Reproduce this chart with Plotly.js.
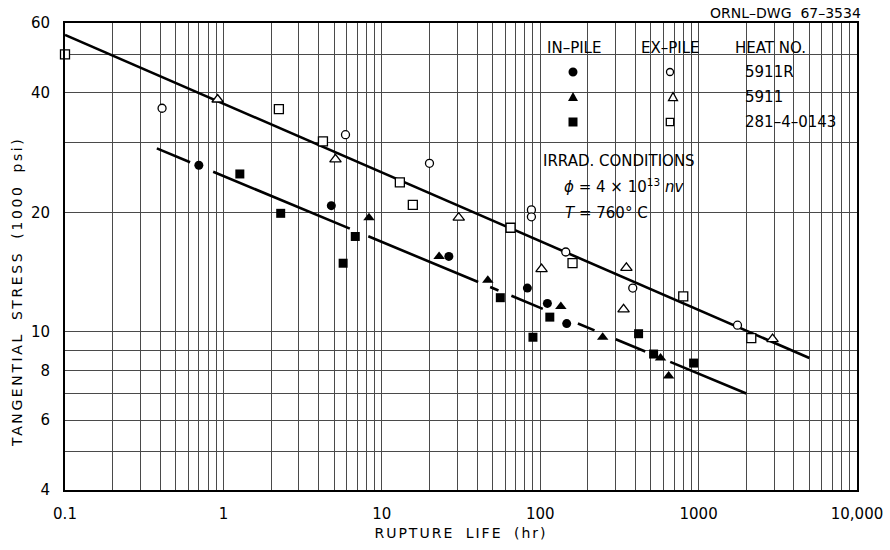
<!DOCTYPE html>
<html>
<head>
<meta charset="utf-8">
<script src="https://cdn.plot.ly/plotly-3.0.1.min.js"></script>
<style>
html,body{margin:0;padding:0;background:#fff;}
#chart{width:890px;height:550px;}
.xtitle{letter-spacing:2px;word-spacing:5px;}
.annotation[data-index="0"] .annotation-text{letter-spacing:2.6px;word-spacing:5px;}
</style>
</head>
<body>
<div id="chart"></div>
<script>
// ---------------- DATA ----------------
// In-pile (irradiated), filled symbols
const inPile5911R_x = [0.70, 4.8, 26.5, 83, 111, 147];
const inPile5911R_y = [26.3, 20.8, 15.5, 12.9, 11.8, 10.5];
const inPile5911_x  = [8.3, 23, 46.7, 135, 248, 575, 647];
const inPile5911_y  = [19.4, 15.5, 13.5, 11.6, 9.7, 8.6, 7.75];
const inPile281_x   = [1.27, 2.3, 5.7, 6.8, 56, 90, 115, 418, 520, 930];
const inPile281_y   = [25.0, 19.9, 14.9, 17.4, 12.2, 9.7, 10.9, 9.9, 8.8, 8.35];
// Ex-pile (control), open symbols
const exPile5911R_x = [0.41, 5.9, 20, 88, 88, 145, 384, 1760];
const exPile5911R_y = [36.6, 31.4, 26.6, 20.3, 19.5, 15.9, 12.9, 10.4];
const exPile5911_x  = [0.92, 5.1, 30.6, 102, 336, 350, 2930];
const exPile5911_y  = [38.5, 27.2, 19.4, 14.4, 11.4, 14.5, 9.6];
const exPile281_x   = [0.1, 2.24, 4.25, 13, 15.7, 65, 160, 800, 2150];
const exPile281_y   = [50, 36.4, 30.2, 23.8, 20.9, 18.3, 14.9, 12.3, 9.65];
// Fitted lines (end points)
const exPileFit_x = [0.1, 5000];
const exPileFit_y = [56, 8.6];
const inPileFit_x = [0.38, 2000];
const inPileFit_y = [29, 7.0];
// Axis ticks
const xDecades = [0.1, 1, 10, 100, 1000];
const xLabelVals = [0.1, 1, 10, 100, 1000, 10000];
const xLabelText = ['0.1', '1', '10', '100', '1000', '10,000'];
const yLabelVals = [4, 6, 8, 10, 20, 40, 60];
const yLabelText = ['4', '6', '8', '10', '20', '40', '60'];
const yGridVals = [4, 5, 6, 7, 8, 9, 10, 20, 30, 40, 50, 60];
// Legend table text
const heatNumbers = ['5911R', '5911', '281\u20134\u20130143'];

// ---------------- BUILD ----------------
const FONT = 'DejaVu Sans, Verdana, sans-serif';
const BLACK = '#000';

const xGridVals = [];
xDecades.forEach(d => { for (let m = 2; m <= 9; m++) xGridVals.push(d * m); });
const yMinorVals = yGridVals.filter(v => yLabelVals.indexOf(v) < 0);

function markerTrace(x, y, symbol, size, filled, name) {
  return {
    type: 'scatter', mode: 'markers', x: x, y: y, name: name,
    cliponaxis: false,
    marker: {
      symbol: symbol, size: size,
      color: filled ? BLACK : '#fff',
      line: {color: BLACK, width: filled ? 0 : 1.3}
    }
  };
}

const traces = [
  {type: 'scatter', mode: 'lines', x: exPileFit_x, y: exPileFit_y, name: 'ex-pile fit',
   line: {color: BLACK, width: 2.6}},
  {type: 'scatter', mode: 'lines', x: inPileFit_x, y: inPileFit_y, name: 'in-pile fit',
   line: {color: BLACK, width: 2.6,
          dash: '36px,25px,148px,20px,119px,13px,9px,14px,34px,38px,18px,23px,32px,27px,84px,300px'}},
  markerTrace(exPile5911R_x, exPile5911R_y, 'circle', 8, false, 'Ex-pile 5911R'),
  markerTrace(exPile5911_x, exPile5911_y, 'triangle-up', 10, false, 'Ex-pile 5911'),
  markerTrace(exPile281_x, exPile281_y, 'square', 9, false, 'Ex-pile 281-4-0143'),
  markerTrace(inPile5911R_x, inPile5911R_y, 'circle', 9, true, 'In-pile 5911R'),
  markerTrace(inPile5911_x, inPile5911_y, 'triangle-up', 10, true, 'In-pile 5911'),
  markerTrace(inPile281_x, inPile281_y, 'square', 9, true, 'In-pile 281-4-0143')
];

// pixel -> paper helpers (plot area 65..857 x, 23..490 y)
const L = 65, R = 857, T = 23, B = 490;
const px = x => (x - L) / (R - L);
const py = y => (B - y) / (B - T);

function ann(text, xp, yp, opts) {
  return Object.assign({
    text: text, xref: 'paper', yref: 'paper', x: px(xp), y: py(yp),
    showarrow: false, xanchor: 'left', yanchor: 'middle',
    font: {family: FONT, size: 15, color: BLACK}
  }, opts || {});
}

const annotations = [
  ann('TANGENTIAL STRESS (1000 psi)', 17, 292, {textangle: -90, xanchor: 'center', font: {family: FONT, size: 14, color: BLACK}}),
  ann('ORNL\u2013DWG  67\u20133534', 863, 13, {xanchor: 'right', font: {family: FONT, size: 14, color: BLACK}}),
  ann('IN\u2013PILE', 574, 48, {xanchor: 'center'}),
  ann('EX\u2013PILE', 670, 48, {xanchor: 'center'}),
  ann('HEAT NO.', 733, 48),
  ann(heatNumbers[0], 743, 72),
  ann(heatNumbers[1], 743, 97),
  ann(heatNumbers[2], 743, 122),
  ann('IRRAD. CONDITIONS', 541, 161),
  ann('<i>\u03d5</i> = 4 \u00d7 10<sup>13</sup> <i>nv</i>', 562, 186),
  ann('<i>T</i> = 760\u00b0 C', 563, 213)
];

function pxShape(type, xc, yc, s, filled, path) {
  const sh = {
    type: type, xref: 'paper', yref: 'paper', xsizemode: 'pixel', ysizemode: 'pixel',
    xanchor: px(xc), yanchor: py(yc), layer: 'above',
    fillcolor: filled ? BLACK : '#fff', line: {color: BLACK, width: filled ? 0 : 1.3}
  };
  if (path) { sh.path = path; } else { sh.x0 = -s; sh.x1 = s; sh.y0 = -s; sh.y1 = s; }
  return sh;
}
const triPath = s => `M${-s},${-s * 0.8} L${s},${-s * 0.8} L0,${s} Z`;

const shapes = [
  // white legend / conditions panel covering the grid
  {type: 'rect', xref: 'paper', yref: 'paper', x0: px(530), x1: px(812), y0: py(142), y1: py(23.5),
   fillcolor: '#fff', line: {width: 0}, layer: 'between'},
  {type: 'rect', xref: 'paper', yref: 'paper', x0: px(530), x1: px(712), y0: py(216), y1: py(141),
   fillcolor: '#fff', line: {width: 0}, layer: 'between'},
  pxShape('circle', 573, 72, 4.5, true),
  pxShape('circle', 670, 72, 3.5, false),
  pxShape('path', 573, 97, 0, true, triPath(5)),
  pxShape('path', 673, 97, 0, false, triPath(4.5)),
  pxShape('rect', 573, 122, 4.5, true),
  pxShape('rect', 670, 122, 3.7, false)
];

const gridColor = '#4a4a4a';
const layout = {
  width: 890, height: 550,
  margin: {l: L, r: 890 - R, t: T, b: 550 - B, pad: 0},
  paper_bgcolor: '#fff', plot_bgcolor: '#fff',
  showlegend: false,
  font: {family: FONT, color: BLACK},
  xaxis: {
    type: 'log', range: [-1, 4],
    tickmode: 'array', tickvals: xLabelVals, ticktext: xLabelText,
    showgrid: true, gridcolor: gridColor, gridwidth: 1,
    minor: {tickmode: 'array', tickvals: xGridVals, showgrid: true, gridcolor: gridColor, gridwidth: 1, ticks: ''},
    showline: true, linecolor: BLACK, linewidth: 2, mirror: true,
    ticks: '', zeroline: false, ticklabelstandoff: 9,
    tickfont: {family: FONT, size: 15, color: BLACK},
    title: {text: 'RUPTURE LIFE (hr)', font: {family: FONT, size: 14, color: BLACK}, standoff: 6}
  },
  yaxis: {
    type: 'log', range: [Math.log10(4), Math.log10(60)],
    tickmode: 'array', tickvals: yLabelVals, ticktext: yLabelText,
    showgrid: true, gridcolor: gridColor, gridwidth: 1,
    minor: {tickmode: 'array', tickvals: yMinorVals, showgrid: true, gridcolor: gridColor, gridwidth: 1, ticks: ''},
    showline: true, linecolor: BLACK, linewidth: 2, mirror: true,
    ticks: '', zeroline: false, ticklabelstandoff: 10,
    tickfont: {family: FONT, size: 15, color: BLACK}
  },
  annotations: annotations,
  shapes: shapes
};

Plotly.newPlot('chart', traces, layout, {staticPlot: true, displayModeBar: false});
</script>
</body>
</html>
